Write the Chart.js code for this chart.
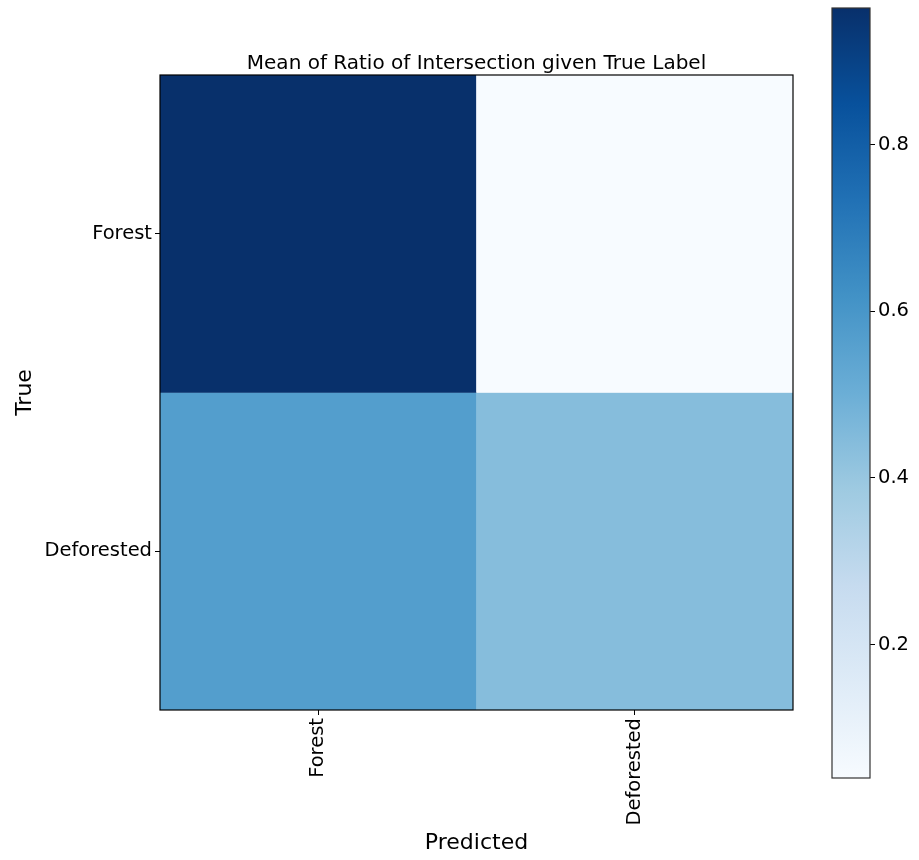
<!DOCTYPE html>
<html>
<head>
<meta charset="utf-8">
<script src="https://cdn.jsdelivr.net/npm/chart.js@4/dist/chart.umd.min.js"></script>
<style>
  html, body { margin: 0; padding: 0; background: #fff; }
  #wrap { position: relative; width: 919px; height: 860px; }
  #main { position: absolute; left: 0; top: 0; width: 810px; height: 860px; }
  #bar { position: absolute; left: 810px; top: 0; width: 109px; height: 860px; }
</style>
</head>
<body>
<div id="wrap">
  <div id="main"><canvas id="heat"></canvas></div>
  <div id="bar"><canvas id="cbar"></canvas></div>
</div>
<script>
const rowLabels = [ 'Forest', 'Deforested' ]
const colLabels = [ 'Forest', 'Deforested' ]
const forestRow = [ 0.964, 0.04 ]
const deforestedRow = [ 0.57, 0.44 ]
const cbarTicks = [ 0.2, 0.4, 0.6, 0.8 ]
const chartTitle = 'Mean of Ratio of Intersection given True Label'

// matplotlib "Blues"
const blues = [ '#f7fbff', '#deebf7', '#c6dbef', '#9ecae1', '#6baed6', '#4292c6', '#2171b5', '#08519c', '#08306b' ]

const rows = [ forestRow, deforestedRow ]
const allValues = rows.flat()
const vmin = Math.min(...allValues)
const vmax = Math.max(...allValues)

function hex(c) {
  return [ parseInt(c.slice(1, 3), 16), parseInt(c.slice(3, 5), 16), parseInt(c.slice(5, 7), 16) ]
}

function bluesColor(v) {
  let t = (v - vmin) / (vmax - vmin)
  t = Math.max(0, Math.min(1, t)) * (blues.length - 1)
  const i = Math.min(Math.floor(t), blues.length - 2)
  const f = t - i
  const a = hex(blues[i]), b = hex(blues[i + 1])
  const c = a.map((x, k) => Math.round(x + (b[k] - x) * f))
  return `rgb(${c[0]}, ${c[1]}, ${c[2]})`
}

const font = 'DejaVu Sans'

const frame = {
  id: 'frame',
  afterDatasetsDraw(chart, args, opts) {
    const { ctx, chartArea: a } = chart
    ctx.save()
    ctx.strokeStyle = opts.color || '#000'
    ctx.lineWidth = 1.2
    ctx.strokeRect(a.left, a.top, a.right - a.left, a.bottom - a.top)
    ctx.restore()
  }
}

// title centred over the plot area, like matplotlib
const areaTitle = {
  id: 'areaTitle',
  afterDraw(chart, args, opts) {
    if (!opts.text) return
    const { ctx, chartArea: a } = chart
    ctx.save()
    ctx.fillStyle = '#000'
    ctx.font = `20px "${font}"`
    ctx.textAlign = 'center'
    ctx.textBaseline = 'alphabetic'
    ctx.fillText(opts.text, (a.left + a.right) / 2, a.top - 6)
    ctx.restore()
  }
}

let heat = new Chart(document.querySelector('#heat'), {
  type: 'bar',
  plugins: [frame, areaTitle],
  data: {
    labels: colLabels,
    datasets: rows.map((vals, r) => ({
      label: rowLabels[r],
      data: vals.map(() => [r - 0.5, r + 0.5]),
      backgroundColor: vals.map(bluesColor),
      borderWidth: 0,
      barPercentage: 1,
      categoryPercentage: 1,
      grouped: false
    }))
  },
  options: {
    responsive: true,
    maintainAspectRatio: false,
    animation: false,
    layout: { padding: { top: 75, right: 17, bottom: 0, left: 0 } },
    scales: {
      x: {
        grid: {
          display: true,
          drawOnChartArea: false,
          offset: false,
          tickLength: 5,
          color: '#000'
        },
        border: { display: false },
        ticks: {
          maxRotation: 90,
          minRotation: 90,
          padding: 3,
          color: '#000',
          font: { family: font, size: 19.5 }
        },
        title: {
          display: true,
          text: 'Predicted',
          color: '#000',
          padding: { top: 4, bottom: 4 },
          font: { family: font, size: 22 }
        },
        afterFit: (scale) => { scale.height = 150 }
      },
      y: {
        type: 'linear',
        min: -0.5,
        max: 1.5,
        reverse: true,
        afterBuildTicks: (scale) => {
          scale.ticks = rowLabels.map((_, i) => ({ value: i }))
        },
        grid: {
          display: true,
          drawOnChartArea: false,
          tickLength: 5,
          color: '#000'
        },
        border: { display: false },
        ticks: {
          padding: 3,
          color: '#000',
          font: { family: font, size: 19.5 },
          callback: (v) => rowLabels[v]
        },
        title: {
          display: true,
          text: 'True',
          color: '#000',
          padding: { top: 12, bottom: 4 },
          font: { family: font, size: 22 }
        },
        afterFit: (scale) => { scale.width = 160 }
      }
    },
    plugins: {
      legend: { display: false },
      tooltip: { enabled: false },
      title: { display: false },
      areaTitle: { text: chartTitle }
    }
  }
})

let cbar = new Chart(document.querySelector('#cbar'), {
  type: 'bar',
  plugins: [frame],
  data: {
    labels: [ '' ],
    datasets: [{
      data: [ [vmin, vmax] ],
      backgroundColor: (ctx) => {
        const area = ctx.chart.chartArea
        if (!area) return blues[0]
        const g = ctx.chart.ctx.createLinearGradient(0, area.bottom, 0, area.top)
        blues.forEach((c, i) => g.addColorStop(i / (blues.length - 1), c))
        return g
      },
      borderWidth: 0,
      barPercentage: 1,
      categoryPercentage: 1
    }]
  },
  options: {
    responsive: true,
    maintainAspectRatio: false,
    animation: false,
    layout: { padding: { top: 8, right: 0, bottom: 82, left: 22 } },
    scales: {
      x: { display: false },
      y: {
        position: 'right',
        min: vmin,
        max: vmax,
        afterBuildTicks: (scale) => {
          scale.ticks = cbarTicks.map((v) => ({ value: v }))
        },
        grid: {
          display: true,
          drawOnChartArea: false,
          tickLength: 5,
          color: '#000'
        },
        border: { display: false },
        ticks: {
          padding: 3,
          color: '#000',
          font: { family: font, size: 19.5 },
          callback: (v) => v.toFixed(1)
        },
        afterFit: (scale) => {
          scale.width = 49
          scale.paddingTop = 0
          scale.paddingBottom = 0
        }
      }
    },
    plugins: {
      legend: { display: false },
      tooltip: { enabled: false },
      frame: { color: '#333' }
    }
  }
})
</script>
</body>
</html>
